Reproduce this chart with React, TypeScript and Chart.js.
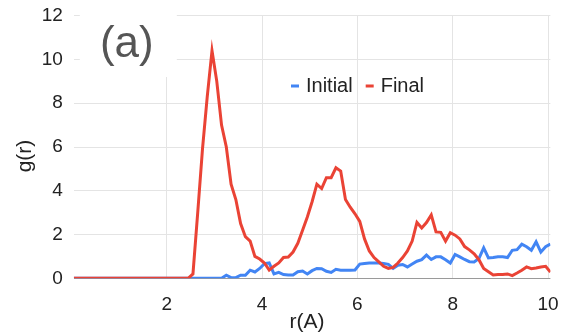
import { useEffect, useRef } from 'react';
import { Chart, registerables } from 'chart.js';

Chart.register(...registerables);

// r values (Å)
const rValues = [
  0.05, 0.15, 0.25, 0.35, 0.45, 0.55, 0.65, 0.75, 0.85, 0.95,
  1.05, 1.15, 1.25, 1.35, 1.45, 1.55, 1.65, 1.75, 1.85, 1.95,
  2.05, 2.15, 2.25, 2.35, 2.45, 2.55, 2.65, 2.75, 2.85, 2.95,
  3.05, 3.15, 3.25, 3.35, 3.45, 3.55, 3.65, 3.75, 3.85, 3.95,
  4.05, 4.15, 4.25, 4.35, 4.45, 4.55, 4.65, 4.75, 4.85, 4.95,
  5.05, 5.15, 5.25, 5.35, 5.45, 5.55, 5.65, 5.75, 5.85, 5.95,
  6.05, 6.15, 6.25, 6.35, 6.45, 6.55, 6.65, 6.75, 6.85, 6.95,
  7.05, 7.15, 7.25, 7.35, 7.45, 7.55, 7.65, 7.75, 7.85, 7.95,
  8.05, 8.15, 8.25, 8.35, 8.45, 8.55, 8.65, 8.75, 8.85, 8.95,
  9.05, 9.15, 9.25, 9.35, 9.45, 9.55, 9.65, 9.75, 9.85, 9.95,
  10.05,
];

const initialValues = [
  0, 0, 0, 0, 0, 0, 0, 0, 0, 0,
  0, 0, 0, 0, 0, 0, 0, 0, 0, 0,
  0, 0, 0, 0, 0, 0, 0, 0, 0, 0,
  0, 0, 0.14, 0.03, 0.03, 0.14, 0.14, 0.37, 0.29, 0.45,
  0.67, 0.7, 0.2, 0.27, 0.17, 0.15, 0.15, 0.3, 0.33, 0.2,
  0.35, 0.45, 0.44, 0.32, 0.27, 0.41, 0.37, 0.37, 0.37, 0.38,
  0.65, 0.68, 0.7, 0.7, 0.7, 0.68, 0.64, 0.45, 0.6, 0.63,
  0.52, 0.65, 0.78, 0.85, 1.06, 0.86, 0.98, 0.98, 0.85, 0.7,
  1.09, 0.98, 0.86, 0.76, 0.75, 0.9, 1.39, 0.93, 0.95, 0.98,
  0.98, 0.95, 1.28, 1.31, 1.56, 1.44, 1.28, 1.67, 1.2, 1.44,
  1.56,
];

const finalValues = [
  0, 0, 0, 0, 0, 0, 0, 0, 0, 0,
  0, 0, 0, 0, 0, 0, 0, 0, 0, 0,
  0, 0, 0, 0, 0, 0.2, 3.0, 5.9, 8.3, 10.4,
  9.0, 7.0, 6.0, 4.3, 3.6, 2.5, 1.9, 1.7, 1.0, 0.88,
  0.7, 0.38, 0.55, 0.7, 0.95, 0.97, 1.2, 1.6, 2.2, 2.8,
  3.5, 4.3, 4.1, 4.6, 4.6, 5.05, 4.9, 3.6, 3.25, 2.95,
  2.6, 1.8, 1.25, 0.95, 0.75, 0.55, 0.45, 0.5, 0.7, 0.95,
  1.25, 1.7, 2.55, 2.3, 2.55, 2.9, 2.12, 2.1, 1.7, 2.08,
  1.97, 1.8, 1.45, 1.3, 1.12, 0.85, 0.45, 0.3, 0.15, 0.17,
  0.17, 0.2, 0.12, 0.24, 0.37, 0.52, 0.44, 0.47, 0.52, 0.55,
  0.28,
];

const seriesNames = ['Initial', 'Final'];
const seriesColors = ['#4285f4', '#ea4335'];
const xTickValues = [2, 4, 6, 8, 10];
const yTickValues = [0, 2, 4, 6, 8, 10, 12];
const xTitle = 'r(A)';
const yTitle = 'g(r)';
const panelLabel = '(a)';

const FONT = '"Liberation Sans", Arial, sans-serif';

const decorPlugin = {
  id: 'decor',
  beforeDatasetsDraw(chart: any) {
    const { ctx, chartArea } = chart;
    ctx.save();
    // white backdrop behind panel label
    ctx.fillStyle = '#ffffff';
    ctx.fillRect(chartArea.left + 6, 0, 97, 77);
    ctx.restore();
  },
  afterDraw(chart: any) {
    const { ctx, chartArea } = chart;
    ctx.save();
    // panel label
    ctx.fillStyle = '#555555';
    ctx.font = `44px ${FONT}`;
    ctx.textAlign = 'center';
    ctx.textBaseline = 'alphabetic';
    ctx.fillText(panelLabel, chartArea.left + 53, 57);

    // legend
    ctx.font = `20px ${FONT}`;
    ctx.textBaseline = 'middle';
    ctx.textAlign = 'left';
    let x = 291;
    const y = 86;
    chart.data.datasets.forEach((ds: any) => {
      ctx.fillStyle = ds.borderColor;
      ctx.fillRect(x, y - 1.5, 8, 3);
      x += 8 + 7;
      ctx.fillStyle = '#222222';
      ctx.fillText(ds.label, x, y);
      x += ctx.measureText(ds.label).width + 13;
    });

    // axis titles
    ctx.fillStyle = '#222222';
    ctx.font = `21px ${FONT}`;
    ctx.textAlign = 'center';
    ctx.textBaseline = 'middle';
    ctx.fillText(xTitle, 307, 322);
    ctx.translate(25, 156);
    ctx.rotate(-Math.PI / 2);
    ctx.fillText(yTitle, 0, 0);
    ctx.restore();
  },
};

export default function App() {
  const canvasRef = useRef<HTMLCanvasElement | null>(null);

  useEffect(() => {
    document.body.style.margin = '0';
    const canvas = canvasRef.current;
    if (!canvas) return;
    const chart = new Chart(canvas, {
      type: 'line',
      data: {
        datasets: [
          {
            label: seriesNames[0],
            data: rValues.map((r, i) => ({ x: r, y: initialValues[i] })),
            borderColor: seriesColors[0],
            backgroundColor: seriesColors[0],
            borderWidth: 3,
            pointRadius: 0,
            tension: 0,
            order: 1,
          },
          {
            label: seriesNames[1],
            data: rValues.map((r, i) => ({ x: r, y: finalValues[i] })),
            borderColor: seriesColors[1],
            backgroundColor: seriesColors[1],
            borderWidth: 3,
            pointRadius: 0,
            tension: 0,
            order: 0,
          },
        ],
      },
      options: {
        responsive: false,
        animation: false,
        devicePixelRatio: 1,
        layout: { padding: { top: 15.7, right: 14.6, left: 0, bottom: 0 } },
        plugins: {
          legend: { display: false },
          tooltip: { enabled: false },
        },
        scales: {
          x: {
            type: 'linear',
            min: 0.05,
            max: 10.05,
            afterBuildTicks: (scale: any) => {
              scale.ticks = xTickValues.map((v) => ({ value: v }));
            },
            afterFit: (scale: any) => {
              scale.height = 57.7;
            },
            grid: {
              color: '#e4e4e4',
              lineWidth: 1,
              drawTicks: true,
              tickLength: 15,
              tickColor: 'rgba(0,0,0,0)',
            },
            border: { display: false },
            ticks: {
              color: '#222222',
              font: { family: FONT, size: 19 },
              padding: 0,
              maxRotation: 0,
            },
          },
          y: {
            type: 'linear',
            min: 0,
            max: 12,
            afterBuildTicks: (scale: any) => {
              scale.ticks = yTickValues.map((v) => ({ value: v }));
            },
            afterFit: (scale: any) => {
              scale.width = 73.8;
            },
            grid: {
              color: (c: any) => (c.tick && c.tick.value === 0 ? '#9a9a9a' : '#e4e4e4'),
              lineWidth: 1,
              drawTicks: true,
              tickLength: 11,
              tickColor: 'rgba(0,0,0,0)',
            },
            border: { display: false },
            ticks: {
              color: '#222222',
              font: { family: FONT, size: 19 },
              padding: 0,
            },
          },
        },
      },
      plugins: [decorPlugin],
    });
    return () => chart.destroy();
  }, []);

  return (
    <div style={{ width: 565, height: 336 }}>
      <canvas ref={canvasRef} width={565} height={336} style={{ display: 'block' }} />
    </div>
  );
}
